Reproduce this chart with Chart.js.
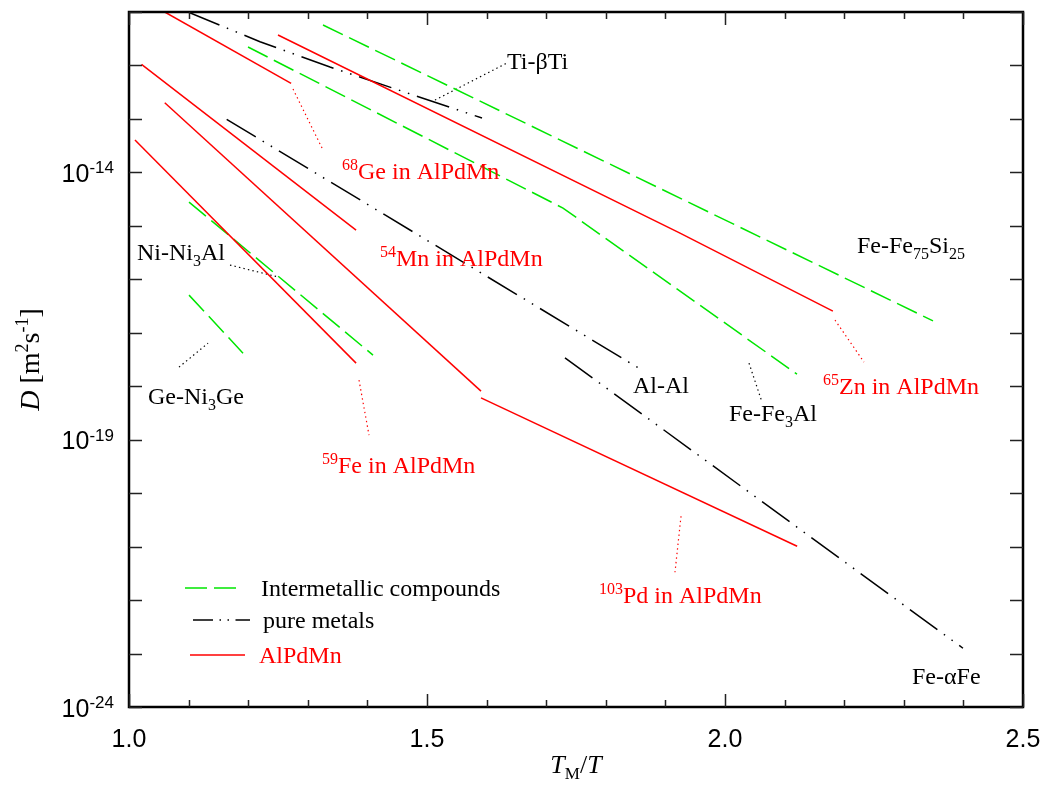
<!DOCTYPE html>
<html><head><meta charset="utf-8">
<script src="https://cdn.jsdelivr.net/npm/chart.js@4.4.0/dist/chart.umd.min.js"></script>
<style>html,body{margin:0;padding:0;background:#fff;}canvas{display:block;}</style>
</head><body>
<canvas id="c" width="1046" height="786"></canvas>
<script>
// ---- data: x = T_M/T, values = log10(D [m^2 s^-1]) ----
// AlPdMn (red, solid)
const ge68_x = [1.060, 1.272];          const ge68_logD = [-11.00, -12.334];
const zn65_x = [1.250, 1.9245, 2.181];  const zn65_logD = [-11.43, -15.135, -16.595];
const mn54_x = [1.021, 1.381];          const mn54_logD = [-11.979, -15.079];
const pd103hi_x = [1.060, 1.5906];      const pd103hi_logD = [-12.697, -18.092];
const pd103lo_x = [1.5906, 2.121];      const pd103lo_logD = [-18.218, -20.993];
const fe59_x = [1.010, 1.381];          const fe59_logD = [-13.395, -17.568];
// intermetallic compounds (green, dashed)
const feFe75Si25_x = [1.3255, 2.349];   const feFe75Si25_logD = [-11.243, -16.777];
const feFe3Al_x = [1.1997, 1.7282, 2.1208]; const feFe3Al_logD = [-11.655, -14.668, -17.774];
const niNi3Al_x = [1.1007, 1.4094];     const niNi3Al_logD = [-14.555, -17.418];
const geNi3Ge_x = [1.1007, 1.1913];     const geNi3Ge_logD = [-16.296, -17.381];
// pure metals (black, dash-dot-dot)
const tiBetaTi_x = [1.099, 1.2198, 1.3372, 1.5923]; const tiBetaTi_logD = [-11.00, -11.556, -12.029, -12.984];
const alAl_x = [1.1639, 1.8628];        const alAl_logD = [-13.008, -17.712];
const feAlphaFe_x = [1.7315, 2.3993];   const feAlphaFe_logD = [-17.469, -22.901];
// leader lines (dotted)
const leadGe_x = [1.2752, 1.3255];   const leadGe_logD = [-12.441, -13.582];
const leadZn_x = [2.1846, 2.2332];   const leadZn_logD = [-16.763, -17.549];
const leadFe_x = [1.3859, 1.4027];   const leadFe_logD = [-17.886, -18.915];
const leadPd_x = [1.9262, 1.9161];   const leadPd_logD = [-20.431, -21.479];
const leadTi_x = [1.5134, 1.6342];   const leadTi_logD = [-12.647, -11.954];
const leadNi3Al_x = [1.1695, 1.2517]; const leadNi3Al_logD = [-15.734, -15.959];
const leadNi3Ge_x = [1.0839, 1.1326]; const leadNi3Ge_logD = [-17.643, -17.194];
const leadFe3Al_x = [2.0403, 2.0621]; const leadFe3Al_logD = [-17.568, -18.298];
// axes
const xTickValues = [1.0,1.1,1.2,1.3,1.4,1.5,1.6,1.7,1.8,1.9,2.0,2.1,2.2,2.3,2.4,2.5];
const xTickLabels = ['1.0','1.5','2.0','2.5'];
const yDecades = [-24,-23,-22,-21,-20,-19,-18,-17,-16,-15,-14,-13,-12,-11];
const yLabelExps = [-14,-19,-24];
const legendNames = ['Intermetallic compounds','pure metals','AlPdMn'];

// ---- styles ----
const RED = '#ff0000', GREEN = '#00e600', BLACK = '#000000';
const DASH_INTER = [22,7], DASH_PURE = [34,8,1.5,8,1.5,8], DASH_ALLOY = [], DASH_LEAD = [1.4,3.2];
const SERIF = '"Liberation Serif","Times New Roman",serif';
const SANS = '"Liberation Sans",Arial,sans-serif';

function pts(xs, ls){ return xs.map((x,i)=>({x:x, y:Math.pow(10, ls[i])})); }
function ds(label, xs, ls, color, dash, w){
  return {label, data: pts(xs, ls), borderColor: color, backgroundColor: color,
    borderDash: dash, borderWidth: w, showLine: true, pointRadius: 0, tension: 0, fill:false};
}
const datasets = [
  ds('68Ge', ge68_x, ge68_logD, RED, DASH_ALLOY, 1.5),
  ds('65Zn', zn65_x, zn65_logD, RED, DASH_ALLOY, 1.5),
  ds('54Mn', mn54_x, mn54_logD, RED, DASH_ALLOY, 1.5),
  ds('103Pd hi', pd103hi_x, pd103hi_logD, RED, DASH_ALLOY, 1.5),
  ds('103Pd lo', pd103lo_x, pd103lo_logD, RED, DASH_ALLOY, 1.5),
  ds('59Fe', fe59_x, fe59_logD, RED, DASH_ALLOY, 1.5),
  ds('Fe-Fe75Si25', feFe75Si25_x, feFe75Si25_logD, GREEN, DASH_INTER, 1.5),
  ds('Fe-Fe3Al', feFe3Al_x, feFe3Al_logD, GREEN, DASH_INTER, 1.5),
  ds('Ni-Ni3Al', niNi3Al_x, niNi3Al_logD, GREEN, DASH_INTER, 1.5),
  ds('Ge-Ni3Ge', geNi3Ge_x, geNi3Ge_logD, GREEN, DASH_INTER, 1.5),
  ds('Ti-bTi', tiBetaTi_x, tiBetaTi_logD, BLACK, DASH_PURE, 1.5),
  ds('Al-Al', alAl_x, alAl_logD, BLACK, DASH_PURE, 1.5),
  ds('Fe-aFe', feAlphaFe_x, feAlphaFe_logD, BLACK, DASH_PURE, 1.5),
  ds('l1', leadGe_x, leadGe_logD, RED, DASH_LEAD, 1.2),
  ds('l2', leadZn_x, leadZn_logD, RED, DASH_LEAD, 1.2),
  ds('l3', leadFe_x, leadFe_logD, RED, DASH_LEAD, 1.2),
  ds('l4', leadPd_x, leadPd_logD, RED, DASH_LEAD, 1.2),
  ds('l5', leadTi_x, leadTi_logD, BLACK, DASH_LEAD, 1.2),
  ds('l6', leadNi3Al_x, leadNi3Al_logD, BLACK, DASH_LEAD, 1.2),
  ds('l7', leadNi3Ge_x, leadNi3Ge_logD, BLACK, DASH_LEAD, 1.2),
  ds('l8', leadFe3Al_x, leadFe3Al_logD, BLACK, DASH_LEAD, 1.2),
];

// annotation texts (anchored at data coordinates: left edge, baseline)
const S = (t)=>({t, v:'sup'}), B = (t)=>({t, v:'sub'}), N = (t)=>({t});
const annotations = [
  {x:1.6342, l:-12.067, c:BLACK, p:[N('Ti-\u03B2Ti')]},
  {x:1.3574, l:-14.125, c:RED,   p:[S('68'),N('Ge in AlPdMn')]},
  {x:2.2215, l:-15.510, c:BLACK, p:[N('Fe-Fe'),B('75'),N('Si'),B('25')]},
  {x:1.4211, l:-15.753, c:RED,   p:[S('54'),N('Mn in AlPdMn')]},
  {x:1.0134, l:-15.641, c:BLACK, p:[N('Ni-Ni'),B('3'),N('Al')]},
  {x:1.8456, l:-18.129, c:BLACK, p:[N('Al-Al')]},
  {x:2.1644, l:-18.148, c:RED,   p:[S('65'),N('Zn in AlPdMn')]},
  {x:1.0319, l:-18.335, c:BLACK, p:[N('Ge-Ni'),B('3'),N('Ge')]},
  {x:2.0067, l:-18.653, c:BLACK, p:[N('Fe-Fe'),B('3'),N('Al')]},
  {x:1.3238, l:-19.626, c:RED,   p:[S('59'),N('Fe in AlPdMn')]},
  {x:1.7886, l:-22.059, c:RED,   p:[S('103'),N('Pd in AlPdMn')]},
  {x:2.3138, l:-23.575, c:BLACK, p:[N('Fe-\u03B1Fe')]},
];

function drawRich(ctx, parts, x, y, opt){
  const size = opt.size, fam = opt.family, sr = opt.subRatio || 0.65;
  const supShift = opt.supShift != null ? opt.supShift : size*0.38;
  const subShift = opt.subShift != null ? opt.subShift : size*0.22;
  const fontOf = (p)=> (p.it?'italic ':'') + Math.round(p.v ? size*sr : size) + 'px ' + fam;
  let total = 0;
  parts.forEach(p=>{ ctx.font = fontOf(p); p.w = ctx.measureText(p.t).width; total += p.w; });
  let cx = x;
  if (opt.align === 'right') cx = x - total;
  else if (opt.align === 'center') cx = x - total/2;
  ctx.textAlign = 'left'; ctx.textBaseline = 'alphabetic';
  parts.forEach(p=>{
    ctx.font = fontOf(p);
    const dy = p.v === 'sup' ? -supShift : (p.v === 'sub' ? subShift : 0);
    ctx.fillText(p.t, cx, y + dy);
    cx += p.w;
  });
}

const decor = {
  id: 'decor',
  afterDatasetsDraw(chart){
    const ctx = chart.ctx, ca = chart.chartArea;
    const xs = chart.scales.x, ys = chart.scales.y;
    ctx.save();
    // frame
    ctx.strokeStyle = '#000'; ctx.lineWidth = 2.5; ctx.setLineDash([]);
    ctx.strokeRect(ca.left, ca.top, ca.right-ca.left, ca.bottom-ca.top);
    // ticks
    ctx.lineWidth = 1.5; ctx.strokeStyle = '#222';
    xTickValues.forEach(v=>{
      const px = Math.round(xs.getPixelForValue(v)) + 0.5;
      const major = Math.abs(v*2 - Math.round(v*2)) < 1e-6;
      const len = major ? 13 : 7;
      ctx.beginPath();
      ctx.moveTo(px, ca.bottom); ctx.lineTo(px, ca.bottom-len);
      ctx.moveTo(px, ca.top); ctx.lineTo(px, ca.top+len);
      ctx.stroke();
    });
    yDecades.forEach(e=>{
      const py = Math.round(ys.getPixelForValue(Math.pow(10,e))) + 0.5;
      ctx.beginPath();
      ctx.moveTo(ca.left, py); ctx.lineTo(ca.left+13, py);
      ctx.moveTo(ca.right, py); ctx.lineTo(ca.right-13, py);
      ctx.stroke();
    });
    // tick labels
    ctx.fillStyle = '#000';
    ctx.font = '25px ' + SANS; ctx.textAlign = 'center'; ctx.textBaseline = 'alphabetic';
    xTickLabels.forEach(t=>{
      ctx.fillText(t, xs.getPixelForValue(parseFloat(t)), ca.bottom + 40);
    });
    yLabelExps.forEach(e=>{
      const py = ys.getPixelForValue(Math.pow(10,e));
      drawRich(ctx, [N('10'), S(String(e))], ca.left - 15, py + 9.5,
        {size:25, family:SANS, align:'right', subRatio:0.68, supShift:8.5});
    });
    // axis titles
    drawRich(ctx, [{t:'T',it:true}, B('M'), N('/'), {t:'T',it:true}],
      (ca.left+ca.right)/2, ca.bottom + 66, {size:26, family:SERIF, align:'center', subShift:6});
    ctx.save();
    ctx.translate(39, (ca.top+ca.bottom)/2);
    ctx.rotate(-Math.PI/2);
    drawRich(ctx, [{t:'D',it:true}, N(' [m'), S('2'), N('s'), S('-1'), N(']')],
      0, 0, {size:28, family:SERIF, align:'center', supShift:11});
    ctx.restore();
    // annotations
    annotations.forEach(a=>{
      ctx.fillStyle = a.c;
      drawRich(ctx, a.p, xs.getPixelForValue(a.x), ys.getPixelForValue(Math.pow(10,a.l)),
        {size:24, family:SERIF, align:'left', subRatio:0.66, supShift:9, subShift:6});
    });
    // legend
    const rows = [
      {c:GREEN, d:DASH_INTER, tc:BLACK, y:588, x0:185, x1:241, tx:261},
      {c:BLACK, d:DASH_PURE.map((v,i)=> i===0?20:(i%2? 6.5 : 1.5)), tc:BLACK, y:620, x0:193, x1:250, tx:263},
      {c:RED, d:[], tc:RED, y:655, x0:190, x1:245, tx:259},
    ];
    rows.forEach((r,i)=>{
      ctx.strokeStyle = r.c; ctx.lineWidth = 1.5; ctx.setLineDash(r.d);
      ctx.beginPath(); ctx.moveTo(r.x0, r.y); ctx.lineTo(r.x1, r.y); ctx.stroke();
      ctx.setLineDash([]);
      ctx.fillStyle = r.tc; ctx.font = '24px ' + SERIF; ctx.textAlign='left'; ctx.textBaseline='alphabetic';
      ctx.fillText(legendNames[i], r.tx, r.y + 8);
    });
    ctx.restore();
  }
};

new Chart(document.getElementById('c'), {
  type: 'scatter',
  data: { datasets },
  options: {
    responsive: false, devicePixelRatio: 1, animation: false,
    layout: { padding: {left:129, top:12, right:23, bottom:79} },
    plugins: { legend: {display:false}, tooltip: {enabled:false} },
    elements: { line: { borderCapStyle: 'butt' } },
    scales: {
      x: { type:'linear', min:1.0, max:2.5, display:false },
      y: { type:'logarithmic', min:1e-24, max:1e-11, display:false }
    }
  },
  plugins: [decor]
});
</script>
</body></html>
